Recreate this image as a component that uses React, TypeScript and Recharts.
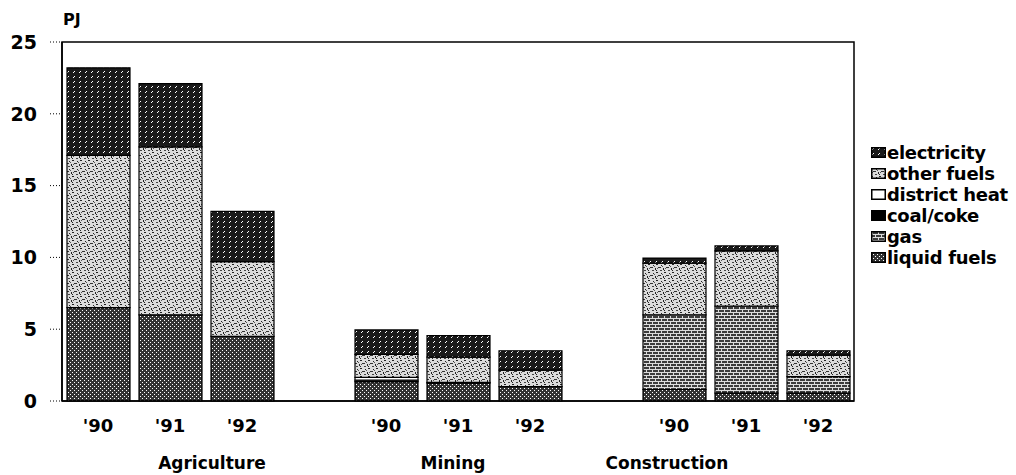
import { BarChart, Bar, XAxis, YAxis, ReferenceArea } from 'recharts';

const sectors = ['Agriculture', 'Mining', 'Construction'];
const years = ["'90", "'91", "'92"];
const yTicks = [0, 5, 10, 15, 20, 25];

// values per sector-year, in order Agriculture '90..'92, Mining '90..'92, Construction '90..'92 (PJ)
const liquidFuels = [6.5, 6.0, 4.5, 1.35, 1.25, 1.0, 0.8, 0.55, 0.55];
const gas = [0, 0, 0, 0, 0, 0, 5.2, 6.05, 1.15];
const coalCoke = [0, 0, 0, 0.1, 0.05, 0, 0, 0, 0];
const districtHeat = [0, 0, 0, 0.2, 0, 0, 0, 0, 0];
const otherFuels = [10.6, 11.7, 5.2, 1.6, 1.75, 1.15, 3.6, 3.85, 1.5];
const electricity = [6.1, 4.4, 3.5, 1.7, 1.5, 1.35, 0.35, 0.35, 0.3];

const series = [
  { key: 'liquid', name: 'liquid fuels', values: liquidFuels, fill: 'url(#pat-liquid)' },
  { key: 'gas', name: 'gas', values: gas, fill: 'url(#pat-gas)' },
  { key: 'coal', name: 'coal/coke', values: coalCoke, fill: '#000' },
  { key: 'district', name: 'district heat', values: districtHeat, fill: '#fff' },
  { key: 'other', name: 'other fuels', values: otherFuels, fill: 'url(#pat-other)' },
  { key: 'elec', name: 'electricity', values: electricity, fill: 'url(#pat-elec)' },
];

// horizontal nudge of the sector captions relative to the middle bar
const sectorShift: Record<string, number> = { Agriculture: 42, Mining: -5, Construction: -79 };

type Row = Record<string, any>;
const rows: Row[] = [];
sectors.forEach((sector, s) => {
  if (s > 0) rows.push({ cat: `gap${s}`, year: '', sector: '' });
  years.forEach((year, y) => {
    const row: Row = { cat: `${sector} ${year}`, year, sector };
    series.forEach((se) => {
      const v = se.values[s * 3 + y];
      row[se.key] = v > 0 ? v : null;
    });
    rows.push(row);
  });
});
const rowByCat: Record<string, Row> = {};
rows.forEach((r) => (rowByCat[r.cat] = r));

const FONT = '"DejaVu Sans", "Liberation Sans", sans-serif';

function XTick({ x, y, payload }: any) {
  const row = rowByCat[payload.value];
  if (!row || !row.year) return null;
  return (
    <g>
      <text x={x} y={y + 24} textAnchor="middle" dominantBaseline="central" fontFamily={FONT} fontWeight="bold" fontSize={18} fill="#000">
        {row.year}
      </text>
      {row.year === "'91" && (
        <text x={x + sectorShift[row.sector]} y={y + 62} textAnchor="middle" dominantBaseline="central" fontFamily={FONT} fontWeight="bold" fontSize={17} fill="#000">
          {row.sector}
        </text>
      )}
    </g>
  );
}

function LegendBox() {
  const items = [...series].reverse();
  return (
    <div style={{ position: 'absolute', left: 871, top: 142, fontFamily: FONT, fontWeight: 'bold', fontSize: 18, color: '#000' }}>
      {items.map((it) => (
        <div key={it.key} style={{ display: 'flex', alignItems: 'center', height: 21, whiteSpace: 'nowrap' }}>
          <svg width={15} height={11} style={{ marginRight: 1 }}>
            <rect x={0.75} y={0.75} width={13.5} height={9.5} fill={it.fill} stroke="#000" strokeWidth={1.5} />
          </svg>
          <span style={{ letterSpacing: -0.3 }}>{it.name}</span>
        </div>
      ))}
    </div>
  );
}

export default function App() {
  return (
    <div style={{ position: 'absolute', left: 0, top: 0, width: 1016, height: 475, background: '#fff' }}>
      <div style={{ position: 'absolute', left: 63, top: 10, fontFamily: FONT, fontSize: 16, fontWeight: 'bold' }}>PJ</div>
      <BarChart width={1016} height={475} data={rows} margin={{ top: 42, right: 162, bottom: 0, left: 0 }} barSize={63}>
        <defs>
          <pattern id="pat-liquid" width={4} height={4} patternUnits="userSpaceOnUse">
            <rect width={4} height={4} fill="#333" />
            <rect x={0} y={0} width={1} height={1} fill="#fff" />
            <rect x={2} y={2} width={1} height={1} fill="#fff" />
          </pattern>
          <pattern id="pat-gas" width={6} height={6} patternUnits="userSpaceOnUse">
            <rect width={6} height={6} fill="#3c3c3c" />
            <rect x={0} y={0} width={6} height={1} fill="#ddd" />
            <rect x={0} y={3} width={6} height={1} fill="#ddd" />
            <rect x={1} y={0} width={1} height={3} fill="#ddd" />
            <rect x={4} y={3} width={1} height={3} fill="#ddd" />
          </pattern>
          <pattern id="pat-elec" width={6} height={5} patternUnits="userSpaceOnUse">
            <rect width={6} height={5} fill="#1a1a1a" />
            <path d="M1 3 L3 1" stroke="#fff" strokeWidth={1} />
          </pattern>
          <pattern id="pat-other" width={8} height={8} patternUnits="userSpaceOnUse">
            <rect width={8} height={8} fill="#dcdcdc" />
            <rect x={0} y={0} width={2} height={1} fill="#222" />
            <rect x={5} y={1} width={1} height={1} fill="#222" />
            <rect x={2} y={3} width={3} height={1} fill="#333" />
            <rect x={7} y={4} width={1} height={2} fill="#222" />
            <rect x={0} y={6} width={1} height={1} fill="#222" />
            <rect x={4} y={6} width={2} height={1} fill="#444" />
            <rect x={6} y={2} width={1} height={1} fill="#555" />
            <rect x={1} y={4} width={1} height={1} fill="#555" />
          </pattern>
        </defs>
        <XAxis
          dataKey="cat"
          tick={<XTick />}
          tickLine={false}
          tickSize={0}
          tickMargin={0}
          interval={0}
          height={74}
          axisLine={{ stroke: '#000', strokeWidth: 1.5 }}
        />
        <YAxis
          domain={[0, 25]}
          ticks={yTicks}
          width={62}
          tickSize={12}
          tickMargin={13}
          tickLine={{ stroke: '#000', strokeDasharray: '1 2' }}
          axisLine={{ stroke: '#000', strokeWidth: 1.5 }}
          tick={{ fill: '#000', fontSize: 19, fontFamily: FONT, fontWeight: 'bold' }}
        />
        <ReferenceArea y1={0} y2={25} fill="none" stroke="#000" strokeWidth={1.5} ifOverflow="visible" />
        {series.map((se) => (
          <Bar
            key={se.key}
            dataKey={se.key}
            name={se.name}
            stackId="a"
            fill={se.fill}
            stroke="#000"
            strokeWidth={1.2}
            isAnimationActive={false}
          />
        ))}
      </BarChart>
      <LegendBox />
    </div>
  );
}
